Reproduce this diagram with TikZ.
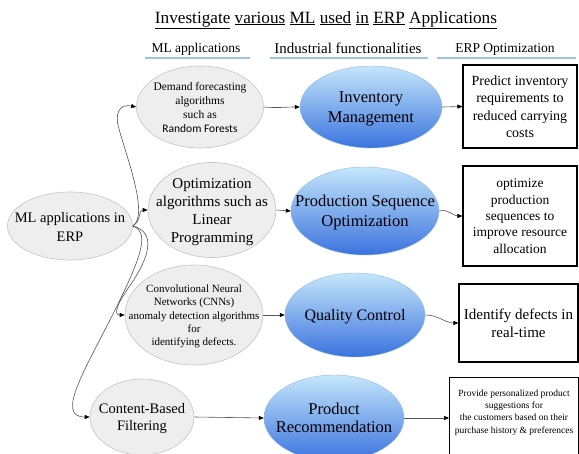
\documentclass[tikz,border=0pt]{standalone}
\usepackage{fontspec}
\setmainfont{Liberation Serif}
\newfontfamily\calfont{Carlito}
\usetikzlibrary{shapes.geometric,arrows.meta}
\definecolor{bluetop}{HTML}{C5E6FB}
\definecolor{bluebot}{HTML}{3B73DE}
\definecolor{greyfill}{HTML}{EEEEEE}
\definecolor{greyline}{HTML}{C4C4C4}
\definecolor{hdrblue}{HTML}{9CC2E8}
\definecolor{linecol}{HTML}{555555}
% zero-size centred text block, so that an ellipse keeps the size it is given
\newcommand{\ztext}[1]{\makebox[0pt]{\raisebox{-0.38em}[0pt][0pt]{\begin{tabular}[c]{@{}c@{}}#1\end{tabular}}}}
\begin{document}
\begin{tikzpicture}[x=1pt,y=-1pt,
  mlell/.style={ellipse, draw=greyline, fill=greyfill, inner sep=0pt, line width=0.6pt},
  bluell/.style={ellipse, top color=bluetop, bottom color=bluebot, draw=bluetop!60!bluebot, line width=0.4pt, inner sep=0pt, font=\fontsize{16}{19}\selectfont},
  optbox/.style={rectangle, draw=black, line width=1.1pt, inner sep=0pt, align=center},
  conn/.style={draw=linecol, line width=0.6pt, -{Triangle[length=5pt,width=4pt,color=black]}},
  hdr/.style={font=\fontsize{13.5}{16}\selectfont, inner sep=0pt},
  hdrline/.style={draw=hdrblue, line width=1.2pt}
]
\useasboundingbox (0,0) rectangle (579,454);
\clip (0,0) rectangle (579,454);
\fill[white] (0,0) rectangle (579,454);

% title
\node[font=\fontsize{17.2}{20}\selectfont, inner sep=0pt] (title) at (326,20)
  {\underline{Investigate} \underline{various} \underline{ML} \underline{used} \underline{in} \underline{ERP} \underline{Applications}};

% headers
\node[hdr] (h1) at (196,49) {ML applications};
\node[hdr, font=\fontsize{15}{17}\selectfont] (h2) at (348,48) {Industrial functionalities};
\node[hdr] (h3) at (505,49) {ERP Optimization};
\draw[hdrline] (145,58) -- (250,58);
\draw[hdrline] (270,58) -- (428,58);
\draw[hdrline] (437,58) -- (576,58);

% ML application ellipses
\node[mlell, minimum width=127pt, minimum height=82pt, font=\fontsize{11.5}{14}\selectfont] (dem) at (200,107)
  {\ztext{Demand forecasting\\algorithms\\such as\\{\calfont Random Forests}}};
\node[mlell, minimum width=125pt, minimum height=68pt, font=\fontsize{14.5}{19}\selectfont] (ml) at (70,226)
  {\ztext{ML applications in\\ERP}};
\node[mlell, minimum width=128pt, minimum height=95pt, font=\fontsize{15}{18}\selectfont] (opt) at (212,210)
  {\ztext{Optimization\\algorithms such as\\Linear\\Programming}};
\node[mlell, minimum width=138pt, minimum height=100pt, font=\fontsize{11}{13.3}\selectfont] (cnn) at (194,315)
  {\ztext{Convolutional Neural\\Networks (CNNs)\\anomaly detection algorithms\\for\\identifying defects.}};
\node[mlell, minimum width=104pt, minimum height=76pt, font=\fontsize{14.5}{17}\selectfont] (cbf) at (142,417)
  {\ztext{Content-Based\\Filtering}};

% industrial functionalities
\node[bluell, minimum width=142pt, minimum height=82pt, font=\fontsize{16.5}{20}\selectfont] (inv) at (371,107) {\ztext{Inventory\\Management}};
\node[bluell, minimum width=148pt, minimum height=88pt, font=\fontsize{16.5}{20}\selectfont] (pso) at (365,211) {\ztext{Production Sequence\\Optimization}};
\node[bluell, minimum width=140pt, minimum height=84pt] (qc) at (355,315) {\ztext{Quality Control}};
\node[bluell, minimum width=140pt, minimum height=86pt, font=\fontsize{16.5}{18.5}\selectfont] (pr) at (334,418) {\ztext{Product\\Recommendation}};

% ERP optimization boxes
\node[optbox, minimum width=114pt, minimum height=83pt, font=\fontsize{14}{17.5}\selectfont] (box1) at (520,106.5)
  {Predict inventory\\requirements to\\reduced carrying\\costs};
\node[optbox, minimum width=114pt, minimum height=100pt, font=\fontsize{13.5}{16.3}\selectfont] (box2) at (520,216)
  {optimize\\production\\sequences to\\improve resource\\allocation};
\node[optbox, minimum width=119pt, minimum height=78pt, font=\fontsize{15}{18}\selectfont] (box3) at (518.5,323)
  {Identify defects in\\real-time};
\node[optbox, anchor=north west, font=\fontsize{9.5}{12.3}\selectfont] (box4) at (449,377)
  {\begin{minipage}[c][110pt][t]{129pt}\centering\vspace*{12pt}
   Provide personalized product\\suggestions for\\the customers based on their\\purchase history \& preferences\end{minipage}};

% waypoints
\coordinate (w1) at (118,125);
\coordinate (w2) at (131,284);
\coordinate (w3) at (115,310);

% connectors
\draw[conn] (dem.east) to[out=-5,in=180] (inv.west);
\draw[conn] (inv.east) -- (box1.west);
\draw[conn] (ml.east) .. controls (150,215) and (124,150) .. (w1) .. controls (115,110) and (122,104) .. (dem.west);
\draw[conn] (ml.east) .. controls (142,220) and (138,210) .. (opt.west);
\draw[conn] (ml.east) .. controls (156,232) and (150,256) .. (w2) .. controls (119,301) and (112,315) .. (cnn.west);
\draw[conn] (ml.east) .. controls (148,232) and (145,250) .. (w3) .. controls (85,370) and (55,417) .. (cbf.west);
\draw[conn] (opt.east) -- (pso.west);
\draw[conn] (pso.east) to[out=15,in=180] (box2.west);
\draw[conn] (cnn.east) -- (qc.west);
\draw[conn] (qc.east) to[out=0,in=180] (box3.west);
\draw[conn] (cbf.east) -- (pr.west);
\draw[conn] (pr.east) -- (pr.east -| box4.west);
\end{tikzpicture}
\end{document}
